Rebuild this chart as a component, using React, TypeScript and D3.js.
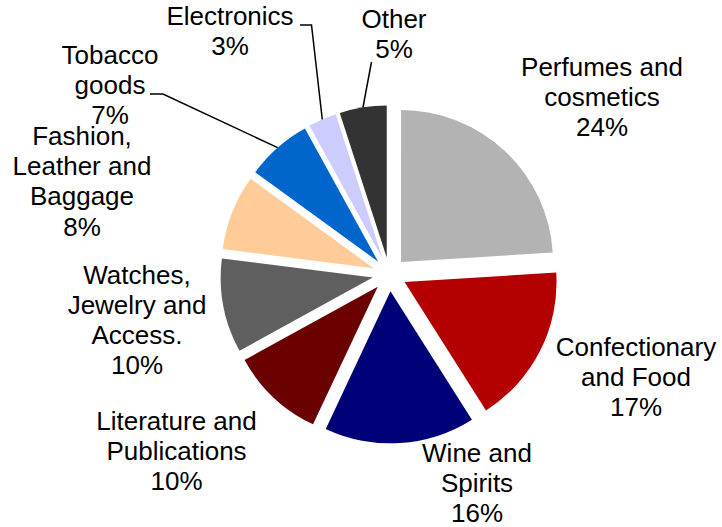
import React from "react";
import * as d3 from "d3";

// Duty-free sales by product category (share of total, %)
const categories = [
  "Perfumes and cosmetics",
  "Confectionary and Food",
  "Wine and Spirits",
  "Literature and Publications",
  "Watches, Jewelry and Access.",
  "Fashion, Leather and Baggage",
  "Tobacco goods",
  "Electronics",
  "Other",
];
const shares = [24, 17, 16, 10, 10, 8, 7, 3, 5];
const colors = [
  "#b3b3b3",
  "#b40000",
  "#000078",
  "#6b0000",
  "#5f5f5f",
  "#ffcc99",
  "#0066cc",
  "#ccccff",
  "#333333",
];
// How each category name wraps in its label
const labelLines = [
  ["Perfumes and", "cosmetics"],
  ["Confectionary", "and Food"],
  ["Wine and", "Spirits"],
  ["Literature and", "Publications"],
  ["Watches,", "Jewelry and", "Access."],
  ["Fashion,", "Leather and", "Baggage"],
  ["Tobacco", "goods"],
  ["Electronics"],
  ["Other"],
];

const W = 722;
const H = 527;
const CX = 389.4;
const CY = 274.4;
const R = 152;
const EXPLODE = 17;
const FONT = 26;
const LINE_H = 30.2;

// Label anchor (centre x, first baseline y) and optional leader polyline start
const labelLayout: { x: number; y: number; leader?: [number, number][] }[] = [
  { x: 602, y: 76 },
  { x: 636, y: 356 },
  { x: 477, y: 461.5 },
  { x: 176.5, y: 429.5 },
  { x: 137, y: 283.5 },
  { x: 82, y: 145 },
  { x: 110, y: 64, leader: [[150, 94], [163, 94]] },
  { x: 230, y: 25, leader: [[300, 25], [311.5, 25]] },
  { x: 394, y: 28, leader: [[371.5, 62]] },
];

export default function App() {
  const pie = d3
    .pie<number>()
    .sort(null)
    .startAngle(0)
    .endAngle(2 * Math.PI)(shares);
  const arc = d3.arc<d3.PieArcDatum<number>>().innerRadius(0).outerRadius(R);

  return (
    <svg
      width={W}
      height={H}
      style={{ position: "absolute", left: 0, top: 0, background: "#fff" }}
      fontFamily="'Liberation Sans', Arial, sans-serif"
    >
      {pie.map((d, i) => {
        const mid = (d.startAngle + d.endAngle) / 2;
        const dx = EXPLODE * Math.sin(mid);
        const dy = -EXPLODE * Math.cos(mid);
        return (
          <path
            key={categories[i]}
            d={arc(d) ?? ""}
            fill={colors[i]}
            transform={`translate(${CX + dx},${CY + dy})`}
          />
        );
      })}
      {pie.map((d, i) => {
        const lay = labelLayout[i];
        if (!lay.leader) return null;
        const mid = (d.startAngle + d.endAngle) / 2;
        const end: [number, number] = [
          CX + (R + EXPLODE) * Math.sin(mid),
          CY - (R + EXPLODE) * Math.cos(mid),
        ];
        const pts = [...lay.leader, end];
        return (
          <polyline
            key={"l" + i}
            points={pts.map((p) => p.join(",")).join(" ")}
            fill="none"
            stroke="#000"
            strokeWidth={1.5}
          />
        );
      })}
      {labelLayout.map((lay, i) => {
        const lines = [...labelLines[i], `${shares[i]}%`];
        return (
          <text
            key={"t" + i}
            x={lay.x}
            y={lay.y}
            textAnchor="middle"
            fontSize={FONT}
            fill="#000"
          >
            {lines.map((ln, k) => (
              <tspan key={k} x={lay.x} dy={k === 0 ? 0 : LINE_H}>
                {ln}
              </tspan>
            ))}
          </text>
        );
      })}
    </svg>
  );
}
